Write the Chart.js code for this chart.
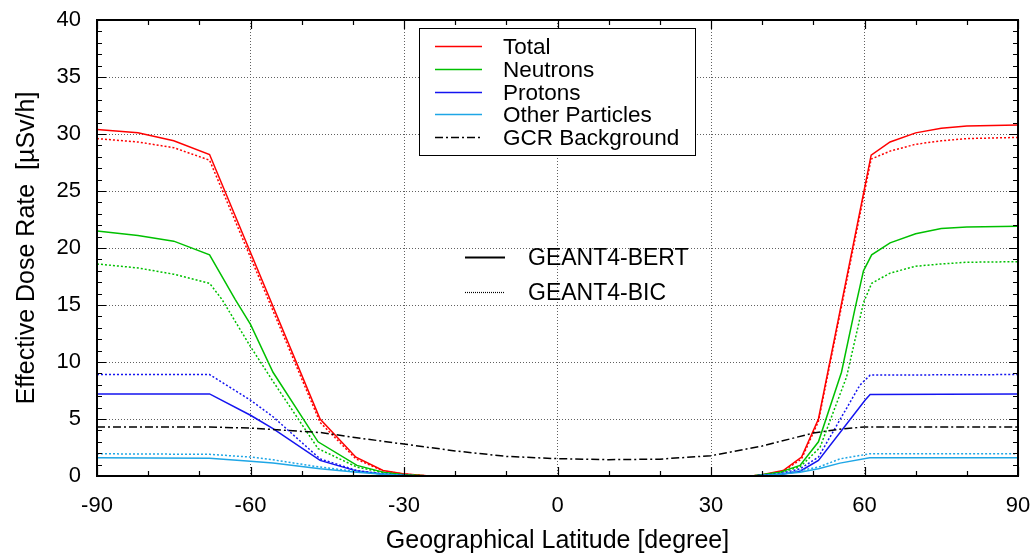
<!DOCTYPE html>
<html>
<head>
<meta charset="utf-8">
<title>Effective Dose Rate vs Latitude</title>
<script src="https://cdn.jsdelivr.net/npm/chart.js"></script>
<style>
  html, body { margin: 0; padding: 0; background: #fff; }
  #wrap { width: 1035px; height: 554px; }
</style>
</head>
<body>
<div id="wrap"><canvas id="dose" width="1035" height="554"></canvas></div>
<script>
// latitude (deg) and dose rate (uSv/h) for each component
const totalLat = [-90, -82, -75, -68, -46.4, -39.4, -34.1, -30.2, -25, 38, 40.2, 44.1, 47.7, 51, 61.3, 65, 70, 75, 80, 90];
const totalBert = [30.4, 30.1, 29.4, 28.2, 5.0, 1.65, 0.48, 0.2, 0, 0, 0.13, 0.48, 1.66, 5.0, 28.15, 29.3, 30.1, 30.5, 30.7, 30.8];
const totalBic = [29.6, 29.3, 28.8, 27.7, 4.7, 1.5, 0.45, 0.18, 0, 0, 0.1, 0.42, 1.5, 4.8, 27.8, 28.5, 29.1, 29.4, 29.6, 29.7];

const neutronBertLat = [-90, -82, -75, -68, -63, -60, -55.6, -46.8, -39.2, -34.1, -30, -25, 38, 43.5, 47.4, 51, 55.5, 58.1, 59.8, 61.4, 65, 70, 75, 80, 90];
const neutronBert = [21.5, 21.1, 20.6, 19.4, 15.5, 13.3, 9.1, 3.0, 0.93, 0.34, 0.1, 0, 0, 0.34, 0.93, 3.0, 9.1, 14.6, 18.0, 19.4, 20.45, 21.25, 21.7, 21.85, 21.9];
const neutronBicLat = [-90, -82, -75, -68, -65.6, -60, -55.6, -46.8, -39.2, -34, -30, -25, 38, 43.5, 47.4, 51.3, 56.5, 59.8, 61.4, 65, 70, 75, 80, 90];
const neutronBic = [18.6, 18.25, 17.7, 16.9, 15.5, 11.35, 8.3, 2.4, 0.78, 0.3, 0.1, 0, 0, 0.3, 0.8, 2.5, 8.7, 15.2, 16.9, 17.8, 18.4, 18.6, 18.75, 18.8];

const protonBertLat = [-90, -68, -60, -55.6, -46.4, -39.2, -34, -30, -25, 38, 43.5, 47.4, 51, 60.1, 61.1, 90];
const protonBert = [7.2, 7.2, 5.33, 4.16, 1.37, 0.43, 0.15, 0.05, 0, 0, 0.13, 0.42, 1.37, 6.65, 7.15, 7.2];
const protonBicLat = [-90, -68, -60, -55.6, -46.4, -39.2, -34, -30, -25, 38, 43.5, 47.4, 51, 59.1, 61.1, 90];
const protonBic = [8.9, 8.9, 6.65, 5.2, 1.5, 0.48, 0.18, 0.05, 0, 0, 0.2, 0.63, 1.66, 7.97, 8.85, 8.9];

const otherLat = [-90, -68, -60, -55.6, -46.4, -39.2, -34, -30, -25, 38, 40, 43.5, 47.4, 51, 55.2, 61, 90];
const otherBert = [1.6, 1.55, 1.3, 1.13, 0.63, 0.33, 0.15, 0.05, 0, 0, 0.05, 0.15, 0.33, 0.63, 1.13, 1.6, 1.6];
const otherBic = [1.95, 1.9, 1.66, 1.42, 0.78, 0.4, 0.18, 0.06, 0, 0, 0.06, 0.18, 0.48, 0.78, 1.5, 1.95, 1.95];

const gcrLat = [-90, -68, -60, -46, -40, -30, -20, -10, 0, 10, 20, 30, 40, 50, 55, 60, 90];
const gcr = [4.3, 4.3, 4.2, 3.8, 3.4, 2.8, 2.2, 1.72, 1.52, 1.43, 1.48, 1.78, 2.63, 3.77, 4.1, 4.3, 4.3];

const componentLabels = ['Total', 'Neutrons', 'Protons', 'Other Particles', 'GCR Background'];
const modelLabels = ['GEANT4-BERT', 'GEANT4-BIC'];

const RED = '#ff0000', GREEN = '#00c000', BLUE = '#1414f0', CYAN = '#1ea6e6', BLACK = '#000000';
const DOTS = [2, 2];
const DASHDOT = [8, 3, 2, 3];
const FONT = '"Liberation Sans", Arial, Helvetica, sans-serif';

function pts(xs, ys) {
  return xs.map((x, i) => ({ x: x, y: ys[i] }));
}

function series(label, xs, ys, color, dash) {
  return {
    label: label,
    data: pts(xs, ys),
    borderColor: color,
    backgroundColor: color,
    borderWidth: 1.5,
    borderDash: dash || [],
    pointRadius: 0,
    tension: 0,
    fill: false
  };
}

// keep tick label overhang from pushing the plot area in
function noOverhang(s) {
  s.paddingTop = 0; s.paddingBottom = 0;
  s.paddingLeft = 0; s.paddingRight = 0;
}

// frame, inward ticks and the two keys, drawn over the curves
const framePlugin = {
  id: 'frame',
  afterDatasetsDraw(chart) {
    const { ctx, chartArea: a, scales } = chart;
    const xs = scales.x, ys = scales.y;
    ctx.save();
    ctx.strokeStyle = '#000';
    ctx.lineWidth = 1.2;
    ctx.beginPath();
    for (let v = -90; v <= 90; v += 10) {
      const px = Math.round(xs.getPixelForValue(v)) + 0.5;
      const len = v % 30 === 0 ? 9 : 5;
      ctx.moveTo(px, a.bottom); ctx.lineTo(px, a.bottom - len);
      ctx.moveTo(px, a.top); ctx.lineTo(px, a.top + len);
    }
    for (let v = 0; v <= 40; v += 1) {
      const py = Math.round(ys.getPixelForValue(v)) + 0.5;
      const len = v % 5 === 0 ? 9 : 5;
      ctx.moveTo(a.left, py); ctx.lineTo(a.left + len, py);
      ctx.moveTo(a.right, py); ctx.lineTo(a.right - len, py);
    }
    ctx.stroke();

    ctx.lineWidth = 2;
    ctx.strokeRect(a.left, a.top, a.right - a.left, a.bottom - a.top);

    // component key (boxed)
    ctx.fillStyle = '#fff';
    ctx.fillRect(419, 28, 276, 127);
    ctx.lineWidth = 1;
    ctx.strokeStyle = '#000';
    ctx.strokeRect(419.5, 28.5, 276, 127);
    const colors = [RED, GREEN, BLUE, CYAN, BLACK];
    const rows = [46, 69, 92, 114, 137];
    ctx.font = '22.5px ' + FONT;
    ctx.textBaseline = 'alphabetic';
    componentLabels.forEach((txt, i) => {
      ctx.beginPath();
      ctx.strokeStyle = colors[i];
      ctx.lineWidth = 1.5;
      ctx.setLineDash(i === 4 ? DASHDOT : []);
      ctx.moveTo(435, rows[i] + 0.5);
      ctx.lineTo(482, rows[i] + 0.5);
      ctx.stroke();
      ctx.setLineDash([]);
      ctx.fillStyle = '#000';
      ctx.fillText(txt, 503, rows[i] + 8);
    });

    // model key (no box)
    const mrows = [257, 292];
    ctx.font = '23px ' + FONT;
    modelLabels.forEach((txt, i) => {
      ctx.beginPath();
      ctx.strokeStyle = '#000';
      ctx.lineWidth = i === 0 ? 2 : 1.2;
      ctx.setLineDash(i === 0 ? [] : [1, 1]);
      ctx.moveTo(465, mrows[i] + 0.5);
      ctx.lineTo(505, mrows[i] + 0.5);
      ctx.stroke();
      ctx.setLineDash([]);
      ctx.fillStyle = '#000';
      ctx.fillText(txt, 528, mrows[i] + 8);
    });
    ctx.restore();
  }
};

new Chart(document.getElementById('dose'), {
  type: 'line',
  data: {
    datasets: [
      series('GCR Background', gcrLat, gcr, BLACK, DASHDOT),
      series('Other Particles BIC', otherLat, otherBic, CYAN, DOTS),
      series('Other Particles BERT', otherLat, otherBert, CYAN),
      series('Protons BIC', protonBicLat, protonBic, BLUE, DOTS),
      series('Protons BERT', protonBertLat, protonBert, BLUE),
      series('Neutrons BIC', neutronBicLat, neutronBic, GREEN, DOTS),
      series('Neutrons BERT', neutronBertLat, neutronBert, GREEN),
      series('Total BIC', totalLat, totalBic, RED, DOTS),
      series('Total BERT', totalLat, totalBert, RED)
    ]
  },
  options: {
    responsive: false,
    animation: false,
    layout: { padding: { top: 20, right: 17, left: 0, bottom: 0 } },
    plugins: { legend: { display: false }, tooltip: { enabled: false } },
    scales: {
      x: {
        type: 'linear',
        min: -90, max: 90,
        afterFit(s) { s.height = 78; noOverhang(s); },
        ticks: { stepSize: 30, color: '#000', font: { family: FONT, size: 22 }, padding: 17, maxRotation: 0 },
        grid: { color: '#606060', lineWidth: 1, drawTicks: false },
        border: { display: false, dash: [1, 2] },
        title: { display: true, text: 'Geographical Latitude [degree]', color: '#000', font: { family: FONT, size: 25, lineHeight: 1.05 }, padding: { top: 0, bottom: 0 } }
      },
      y: {
        min: 0, max: 40,
        afterFit(s) { s.width = 97; noOverhang(s); },
        ticks: { stepSize: 5, color: '#000', font: { family: FONT, size: 22 }, padding: 16 },
        grid: { color: '#606060', lineWidth: 1, drawTicks: false },
        border: { display: false, dash: [1, 2] },
        title: { display: true, text: 'Effective Dose Rate  [µSv/h]', color: '#000', font: { family: FONT, size: 25 }, padding: { top: 12, bottom: 0 } }
      }
    }
  },
  plugins: [framePlugin]
});
</script>
</body>
</html>
